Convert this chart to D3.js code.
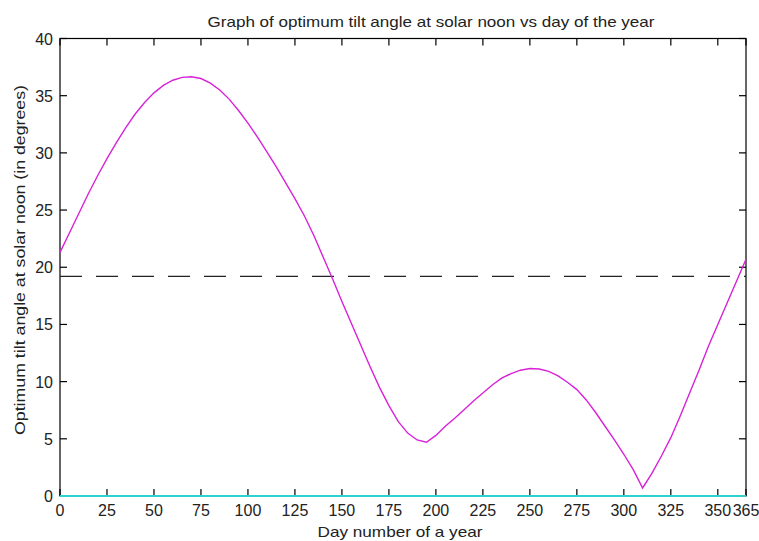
<!DOCTYPE html>
<html>
<head>
<meta charset="utf-8">
<script src="https://cdn.jsdelivr.net/npm/d3@7"></script>
<style>
  body { margin: 0; background: #fff; }
  text { font-family: "Liberation Sans", Arial, sans-serif; fill: #222; }
</style>
</head>
<body>
<svg id="chart"></svg>
<script>
// day numbers and optimum tilt angle
const days = [0, 5, 10, 15, 20, 25, 30, 35, 40, 45, 50, 55, 60, 65, 70, 75, 80, 85, 90, 95,
  100, 105, 110, 115, 120, 125, 130, 135, 140, 145, 150, 155, 160, 165, 170, 175, 180, 185, 190, 195,
  200, 205, 210, 215, 220, 225, 230, 235, 240, 245, 250, 255, 260, 265, 270, 275, 280, 285, 290, 295,
  300, 305, 310, 315, 320, 325, 330, 335, 340, 345, 350, 355, 360, 365];
const tilt = [21.3, 23.0, 24.7, 26.4, 28.0, 29.5, 30.9, 32.2, 33.4, 34.4, 35.25, 35.9, 36.35, 36.6, 36.65, 36.5, 36.1, 35.5, 34.7, 33.7,
  32.6, 31.4, 30.1, 28.8, 27.4, 26.0, 24.5, 22.8, 20.9, 19.0, 17.0, 15.1, 13.2, 11.3, 9.5, 7.9, 6.5, 5.5, 4.9, 4.7,
  5.3, 6.1, 6.8, 7.55, 8.3, 9.0, 9.7, 10.3, 10.7, 11.0, 11.15, 11.1, 10.9, 10.5, 9.95, 9.3, 8.4, 7.3, 6.1, 4.9,
  3.65, 2.3, 0.7, 2.0, 3.5, 5.1, 7.0, 9.0, 11.0, 13.1, 15.0, 16.9, 18.8, 20.7];
const meanTilt = 19.2;
const zeroLine = 0;

const xTicks = [0, 25, 50, 75, 100, 125, 150, 175, 200, 225, 250, 275, 300, 325, 350, 365];
const yTicks = [0, 5, 10, 15, 20, 25, 30, 35, 40];

const W = 759, H = 541;
const margin = { top: 38.5, right: 13, bottom: 45, left: 60 };
const width = W - margin.left - margin.right;
const height = H - margin.top - margin.bottom;

const svg = d3.select("#chart").attr("width", W).attr("height", H);
const g = svg.append("g").attr("transform", `translate(${margin.left},${margin.top})`);

const x = d3.scaleLinear().domain([0, 365]).range([0, width]);
const y = d3.scaleLinear().domain([0, 40]).range([height, 0]);

// box
g.append("rect")
  .attr("width", width).attr("height", height)
  .attr("fill", "none").attr("stroke", "#000").attr("stroke-width", 1.2);

// ticks, inward on all four sides
const tickLen = 7;
g.append("g").selectAll("line").data(xTicks).enter().append("line")
  .attr("x1", d => x(d)).attr("x2", d => x(d))
  .attr("y1", height).attr("y2", height - tickLen)
  .attr("stroke", "#000").attr("stroke-width", 1.2);
g.append("g").selectAll("line").data(xTicks).enter().append("line")
  .attr("x1", d => x(d)).attr("x2", d => x(d))
  .attr("y1", 0).attr("y2", tickLen)
  .attr("stroke", "#000").attr("stroke-width", 1.2);
g.append("g").selectAll("line").data(yTicks).enter().append("line")
  .attr("x1", 0).attr("x2", tickLen)
  .attr("y1", d => y(d)).attr("y2", d => y(d))
  .attr("stroke", "#000").attr("stroke-width", 1.2);
g.append("g").selectAll("line").data(yTicks).enter().append("line")
  .attr("x1", width).attr("x2", width - tickLen)
  .attr("y1", d => y(d)).attr("y2", d => y(d))
  .attr("stroke", "#000").attr("stroke-width", 1.2);

// tick labels
g.append("g").selectAll("text").data(xTicks).enter().append("text")
  .attr("x", d => x(d)).attr("y", height + 20)
  .attr("text-anchor", "middle")
  .style("font-size", "16px")
  .text(d => d);
g.append("g").selectAll("text").data(yTicks).enter().append("text")
  .attr("x", -7).attr("y", d => y(d) + 6)
  .attr("text-anchor", "end")
  .style("font-size", "16px")
  .text(d => d);

// zero line
g.append("line")
  .attr("x1", x(0)).attr("x2", x(365))
  .attr("y1", y(zeroLine)).attr("y2", y(zeroLine))
  .attr("stroke", "#2fd0d0").attr("stroke-width", 2);

// mean line
g.append("line")
  .attr("x1", x(0)).attr("x2", x(365))
  .attr("y1", y(meanTilt)).attr("y2", y(meanTilt))
  .attr("stroke", "#222").attr("stroke-width", 1.3)
  .attr("stroke-dasharray", "22,14");

// tilt curve
const line = d3.line().x((d, i) => x(days[i])).y(d => y(d));
g.append("path")
  .datum(tilt)
  .attr("d", line)
  .attr("fill", "none")
  .attr("stroke", "#d822d8")
  .attr("stroke-width", 1.4);

// title and labels
svg.append("text")
  .attr("x", 431).attr("y", 27)
  .attr("text-anchor", "middle")
  .attr("textLength", 447).attr("lengthAdjust", "spacingAndGlyphs")
  .style("font-size", "15px")
  .text("Graph of optimum tilt angle at solar noon vs  day of the year");

svg.append("text")
  .attr("x", 400).attr("y", 537)
  .attr("text-anchor", "middle")
  .attr("textLength", 165).attr("lengthAdjust", "spacingAndGlyphs")
  .style("font-size", "15px")
  .text("Day number of a year");

svg.append("text")
  .attr("transform", "translate(25,260) rotate(-90)")
  .attr("text-anchor", "middle")
  .attr("textLength", 350).attr("lengthAdjust", "spacingAndGlyphs")
  .style("font-size", "15px")
  .text("Optimum tilt angle at solar noon (in degrees)");
</script>
</body>
</html>
